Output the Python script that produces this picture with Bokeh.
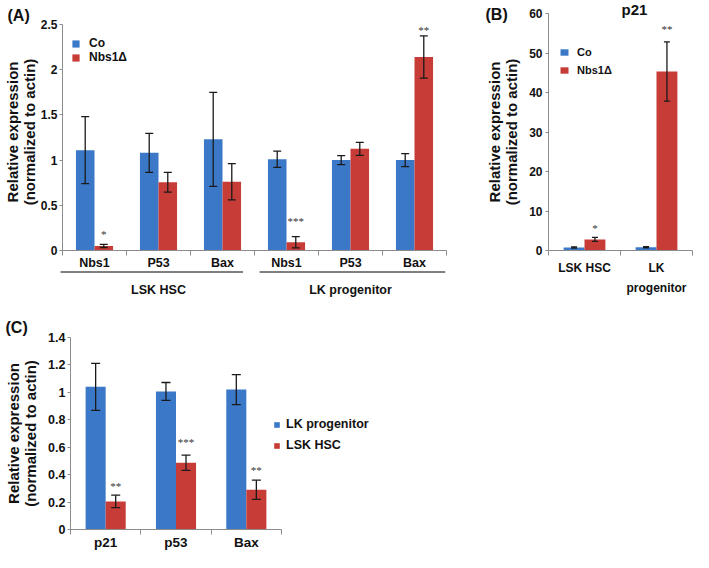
import numpy as np
from bokeh.plotting import figure
from bokeh.models import (ColumnDataSource, Range1d, FixedTicker, NumeralTickFormatter,
                          Whisker, TeeHead, Legend, LegendItem, LabelSet)
from bokeh.core.properties import value
from bokeh.layouts import row, column
from bokeh.embed import file_html
from bokeh.resources import INLINE

# ---------------- data ----------------
# Panel A
a_groups = ["LSK HSC", "LK progenitor"]
a_genes = ["Nbs1", "P53", "Bax", "Nbs1", "P53", "Bax"]
a_group_of = [0, 0, 0, 1, 1, 1]
a_co = [1.11, 1.08, 1.23, 1.01, 1.00, 1.00]
a_co_err = [0.37, 0.215, 0.52, 0.09, 0.05, 0.072]
a_nbs = [0.05, 0.755, 0.76, 0.092, 1.125, 2.14]
a_nbs_err = [0.017, 0.11, 0.20, 0.062, 0.072, 0.234]
a_sig = ["*", "", "", "***", "", "**"]
a_sig_y = [0.21, 0, 0, 0.35, 0, 2.46]
a_yticks = [0, 0.5, 1, 1.5, 2, 2.5]

# Panel B (p21)
b_cats = ["LSK HSC", "LK progenitor"]
b_tick_labels = ["LSK HSC", "LK\nprogenitor"]
b_co = [0.78, 0.85]
b_co_err = [0.15, 0.15]
b_nbs = [2.8, 45.3]
b_nbs_err = [0.5, 7.5]
b_sig = ["*", "**"]
b_sig_y = [6.3, 56.6]
b_yticks = [0, 10, 20, 30, 40, 50, 60]

# Panel C
c_genes = ["p21", "p53", "Bax"]
c_lk = [1.04, 1.007, 1.02]
c_lk_err = [0.172, 0.065, 0.11]
c_lsk = [0.205, 0.487, 0.29]
c_lsk_err = [0.045, 0.056, 0.07]
c_sig = ["**", "***", "**"]
c_sig_y = [0.334, 0.651, 0.45]
c_yticks = [0, 0.2, 0.4, 0.6, 0.8, 1, 1.2, 1.4]

series_names_ab = ["Co", "Nbs1\u0394"]
series_names_c = ["LK progenitor", "LSK HSC"]

# ---------------- style ----------------
FONT = "Liberation Sans"
BLUE = "#3B79C8"
RED = "#C73C37"
GREY = "#8c8c8c"
INK = "#111111"
YLABEL = "Relative expression\n(normalized to actin)"


def base_fig(width, height, borders, x_end, y_end, y_top, yticks, xlabels, xfont, yfont,
             x_standoff, y_standoffs):
    n = len(xlabels)
    l, r, t, b = borders
    p = figure(width=width, height=height, x_range=Range1d(0, x_end), y_range=Range1d(0, y_end),
               output_backend="svg", toolbar_location=None,
               min_border_left=l, min_border_right=r, min_border_top=t, min_border_bottom=b)
    p.outline_line_color = None
    p.xgrid.visible = False
    p.ygrid.visible = False
    centers = [i + 0.5 for i in range(n)]
    xa = p.xaxis[0]
    xa.ticker = FixedTicker(ticks=centers, minor_ticks=list(range(n + 1)))
    xa.bounds = (0, n)
    xa.major_label_overrides = {c: lab for c, lab in zip(centers, xlabels)}
    xa.major_tick_out = 0
    xa.major_tick_in = 0
    xa.minor_tick_out = 5
    xa.minor_tick_in = 0
    xa.minor_tick_line_color = GREY
    xa.axis_line_color = GREY
    xa.major_label_standoff = x_standoff
    xa.major_label_text_font = FONT
    xa.major_label_text_font_style = "bold"
    xa.major_label_text_font_size = xfont
    xa.major_label_text_color = INK

    ya = p.yaxis[0]
    ya.ticker = FixedTicker(ticks=yticks)
    ya.bounds = (0, y_top)
    ya.formatter = NumeralTickFormatter(format="0.[0]")
    ya.major_tick_out = 3
    ya.major_tick_in = 0
    ya.minor_tick_out = 0
    ya.minor_tick_in = 0
    ya.major_tick_line_color = GREY
    ya.axis_line_color = GREY
    ya.major_label_standoff = y_standoffs[0]
    ya.major_label_text_font = FONT
    ya.major_label_text_font_style = "bold"
    ya.major_label_text_font_size = yfont
    ya.major_label_text_color = INK
    ya.axis_label = YLABEL
    ya.axis_label_text_font = FONT
    ya.axis_label_text_font_style = "bold"
    ya.axis_label_text_font_size = "15px"
    ya.axis_label_text_line_height = 1.0
    ya.axis_label_text_color = INK
    ya.axis_label_standoff = y_standoffs[1]
    return p, np.array(centers)


def add_bars(p, xs, vals, errs, color, w, head):
    src = ColumnDataSource(dict(x=xs, top=vals,
                                upper=[v + e for v, e in zip(vals, errs)],
                                lower=[v - e for v, e in zip(vals, errs)]))
    r = p.vbar(x="x", top="top", bottom=0, width=w, source=src,
               fill_color=color, line_color=None)
    wk = Whisker(base="x", upper="upper", lower="lower", source=src,
                 line_color="#1a1a1a", line_width=1.3, level="annotation",
                 upper_head=TeeHead(size=head, line_color="#1a1a1a", line_width=1.3),
                 lower_head=TeeHead(size=head, line_color="#1a1a1a", line_width=1.3))
    p.add_layout(wk)
    return r


def add_stars(p, xs, texts, ys):
    keep = [i for i, t in enumerate(texts) if t]
    src = ColumnDataSource(dict(x=[xs[i] for i in keep], y=[ys[i] for i in keep],
                                t=[texts[i] for i in keep]))
    p.add_layout(LabelSet(x="x", y="y", text="t", source=src, text_align="center",
                          text_baseline="middle", y_offset=-2, text_font=FONT,
                          text_font_size="11px", text_color="#333333"))


def make_legend(items, loc, gw, gh, fs, standoff, spacing):
    return Legend(items=[LegendItem(label=lab, renderers=[r]) for lab, r in items],
                  location=loc, orientation="vertical", padding=0, margin=0,
                  spacing=spacing, glyph_width=gw, glyph_height=gh, label_height=gh,
                  label_standoff=standoff, label_text_font=FONT,
                  label_text_font_style="bold", label_text_font_size=fs,
                  label_text_color=INK, border_line_color=None, background_fill_alpha=0)


def free_text(p, xs, ys, texts, xo, yo, size, align="left", baseline="middle"):
    p.text(x=xs, y=ys, text=texts, x_offset=xo, y_offset=yo, level="overlay",
           text_font=value(FONT), text_font_style="bold", text_font_size=value(size),
           text_color=INK, text_align=align, text_baseline=baseline)


# ---------------- Panel A ----------------
# frame: x 60..446, y 13..250 (0 -> 250, 2.5 -> 24)
A_FRAME_H = 237
A_PX = 90.4
A_YEND = A_FRAME_H / A_PX
wA = 0.29
pA, cA = base_fig(483, 300, (60, 37, 13, 50), len(a_genes), A_YEND, 2.5, a_yticks, a_genes,
                  "12.5px", "12px", 0, (2, 0))
rA1 = add_bars(pA, list(cA - wA / 2), a_co, a_co_err, BLUE, wA, 8)
rA2 = add_bars(pA, list(cA + wA / 2), a_nbs, a_nbs_err, RED, wA, 8)
add_stars(pA, list(cA + wA / 2), a_sig, a_sig_y)
pA.add_layout(make_legend(list(zip(series_names_ab, [rA1, rA2])), (9, 186), 9, 9, "12px", 9, 0))
free_text(pA, [0], [A_YEND], ["(A)"], -55, 2, "16px")
g_centers, ul_x0, ul_x1 = [], [], []
for g, name in enumerate(a_groups):
    idx = [i for i, gg in enumerate(a_group_of) if gg == g]
    gx0, gx1 = min(idx), max(idx) + 1
    g_centers.append((gx0 + gx1) / 2)
    ul_x0.append(gx0 - 0.03 if g == 0 else gx0 + 0.08)
    ul_x1.append(gx1 - 0.18 if g == 0 else gx1 - 0.02)
free_text(pA, g_centers, [0, 0], a_groups, 0, 39, "12.5px", align="center")
yl = -21.5 / A_PX
pA.segment(x0=ul_x0, y0=[yl, yl], x1=ul_x1, y1=[yl, yl], line_color="black",
           line_width=1, level="overlay")

# ---------------- Panel B ----------------
wB = 0.29
pB, cB = base_fig(210, 300, (65, 1, 13, 50), len(b_cats), 60, 60, b_yticks, b_tick_labels,
                  "12px", "12px", 5, (3, 6))
pB.xaxis[0].major_label_text_line_height = 1.45
rB1 = add_bars(pB, list(cB - wB / 2), b_co, b_co_err, BLUE, wB, 6)
rB2 = add_bars(pB, list(cB + wB / 2), b_nbs, b_nbs_err, RED, wB, 6)
add_stars(pB, list(cB + wB / 2), b_sig, b_sig_y)
pB.add_layout(make_legend(list(zip(series_names_ab, [rB1, rB2])), (11, 174), 10, 8, "11px", 8, 6))
free_text(pB, [0], [60], ["(B)"], -63, 1, "16px")
free_text(pB, [0], [60], ["p21"], 86, -4, "15px", align="center")

# ---------------- Panel C ----------------
# frame: x 70..380 (categories occupy 70..281), y 337..532
C_CAT_PX = 211 / len(c_genes)
C_XEND = 310 / C_CAT_PX
wC = 0.285
pC, cC = base_fig(388, 252, (70, 8, 37, 20), C_XEND, 1.4, 1.4, c_yticks, c_genes,
                  "13.5px", "12.5px", 0, (2, 6))
rC1 = add_bars(pC, list(cC - wC / 2), c_lk, c_lk_err, BLUE, wC, 9)
rC2 = add_bars(pC, list(cC + wC / 2), c_lsk, c_lsk_err, RED, wC, 9)
add_stars(pC, list(cC + wC / 2), c_sig, c_sig_y)
pC.add_layout(make_legend(list(zip(series_names_c, [rC1, rC2])), (203, 77), 7, 7, "12.5px", 6, 7))
free_text(pC, [0], [1.4], ["(C)"], -65, -10, "16px")

layout = column(row(pA, pB), pC)
open("out.html", "w").write(file_html(layout, INLINE))
